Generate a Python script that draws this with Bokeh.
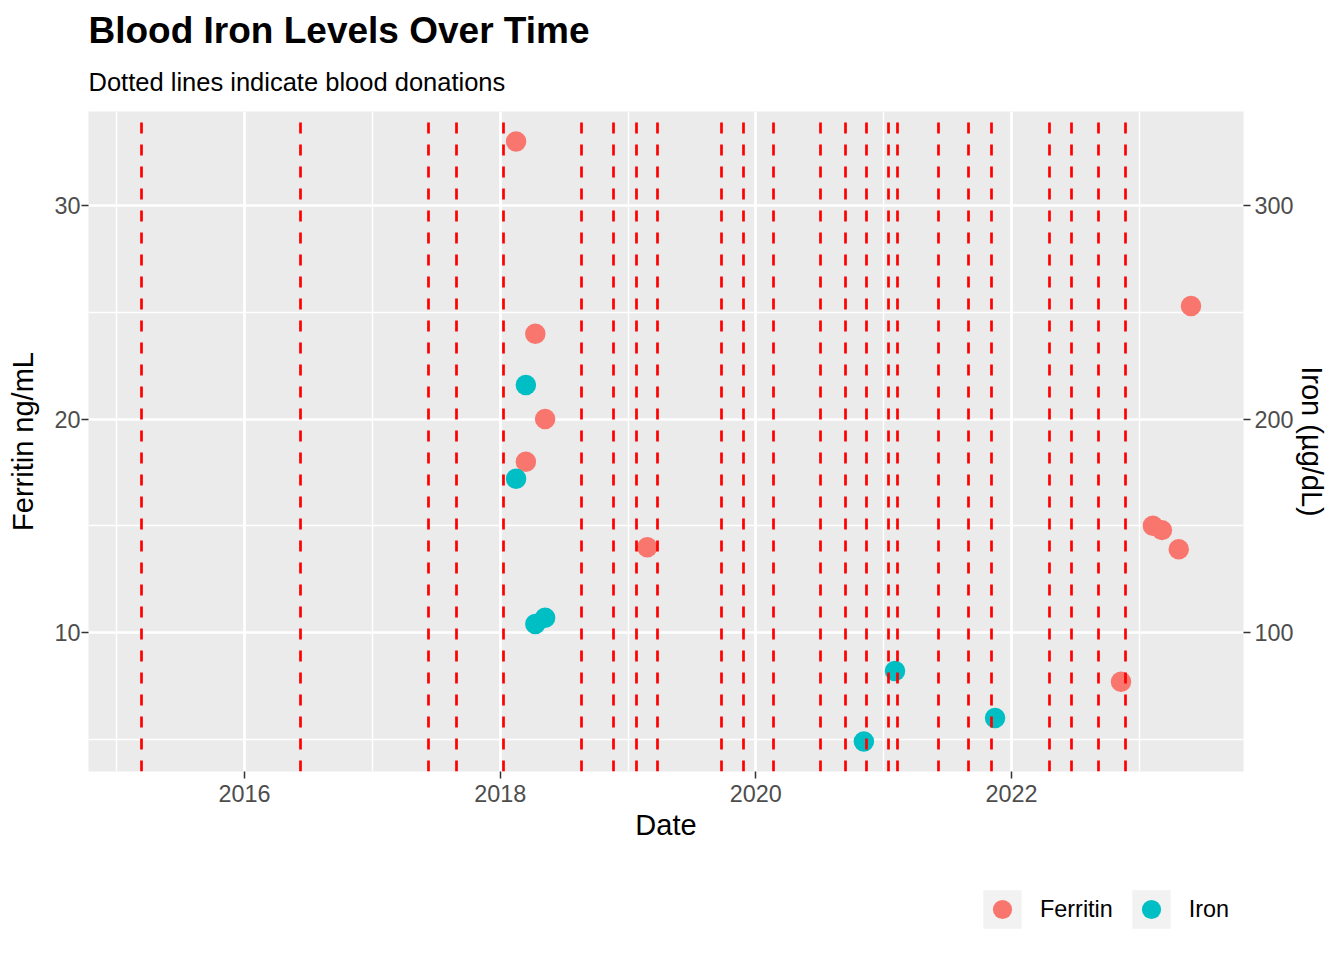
import pandas as pd
from bokeh.plotting import figure
from bokeh.layouts import column
from bokeh.models import (Range1d, LinearAxis, FixedTicker, DatetimeTickFormatter,
                          Legend, LegendItem, Title)
from bokeh.embed import file_html
from bokeh.resources import INLINE

# ---------------- data ----------------
donation_dates = ["2015-03-11", "2016-06-10", "2017-06-10", "2017-08-30", "2018-01-11",
                  "2018-08-21", "2018-11-21", "2019-01-24", "2019-03-27", "2019-09-26",
                  "2019-11-27", "2020-02-22", "2020-07-03", "2020-09-13", "2020-11-12",
                  "2021-01-13", "2021-02-08", "2021-06-06", "2021-08-31", "2021-11-06",
                  "2022-04-21", "2022-06-21", "2022-09-07", "2022-11-22"]

ferritin_dates = ["2018-02-15", "2018-03-15", "2018-04-11", "2018-05-09", "2019-02-25",
                  "2022-11-10", "2023-02-09", "2023-03-07", "2023-04-24", "2023-05-29"]
ferritin_values = [33.0, 18.0, 24.0, 20.0, 14.0, 7.7, 15.0, 14.8, 13.9, 25.3]

iron_dates = ["2018-02-15", "2018-03-15", "2018-04-11", "2018-05-09", "2020-11-05",
              "2021-02-02", "2021-11-15"]
iron_values = [172, 216, 104, 107, 49, 82, 60]

x_major_years = [2016, 2018, 2020, 2022]
x_minor_years = [2015, 2017, 2019, 2021, 2023]
ferritin_ticks = [10, 20, 30]
ferritin_minor = [5, 15, 25]
iron_ticks = [100, 200, 300]
iron_scale = 10.0  # iron axis = ferritin axis * 10

series_names = ["Ferritin", "Iron"]

FONT = "Liberation Sans"
FER_COL = "#F8766D"
IRON_COL = "#00BFC4"

def to_ms(s):
    return pd.Timestamp(s).value / 1e6

don_ms = [to_ms(d) for d in donation_dates]
fer_ms = [to_ms(d) for d in ferritin_dates]
iron_ms = [to_ms(d) for d in iron_dates]

# ranges with 5% expansion like ggplot
all_x = don_ms + fer_ms + iron_ms
xmin, xmax = min(all_x), max(all_x)
xpad = 0.05 * (xmax - xmin)
all_y = ferritin_values + [v / iron_scale for v in iron_values]
ymin, ymax = min(all_y), max(all_y)
ypad = 0.05 * (ymax - ymin)

p = figure(width=1336, height=860, x_axis_type="datetime",
           output_backend="svg", toolbar_location=None,
           x_range=Range1d(xmin - xpad, xmax + xpad),
           y_range=Range1d(ymin - ypad, ymax + ypad),
           min_border_left=88, min_border_right=93,
           min_border_top=111, min_border_bottom=89)
p.extra_y_ranges = {"iron": Range1d((ymin - ypad) * iron_scale, (ymax + ypad) * iron_scale)}

p.background_fill_color = "#EBEBEB"
p.border_fill_color = "white"
p.outline_line_color = None

# titles
p.title.text = "Blood Iron Levels Over Time"
p.title.text_font = FONT
p.title.text_font_size = "37px"
p.title.text_font_style = "bold"
p.title.text_color = "black"
p.title.align = "left"
p.title.standoff = 0
p.add_layout(Title(text="Dotted lines indicate blood donations", text_font=FONT,
                   text_font_size="25.5px", text_font_style="normal",
                   text_color="black", align="left", standoff=31), "above")

# axes
major_ms = [to_ms(f"{y}-01-01") for y in x_major_years]
minor_ms = [to_ms(f"{y}-01-01") for y in x_minor_years]
xaxis = p.xaxis[0]
xaxis.ticker = FixedTicker(ticks=major_ms, minor_ticks=minor_ms)
xaxis.formatter = DatetimeTickFormatter(years="%Y", months="%Y", days="%Y",
                                        hours="%Y", minutes="%Y", seconds="%Y",
                                        milliseconds="%Y", microseconds="%Y")
xaxis.axis_label = "Date"

yaxis = p.yaxis[0]
yaxis.ticker = FixedTicker(ticks=ferritin_ticks, minor_ticks=ferritin_minor)
yaxis.axis_label = "Ferritin ng/mL"

raxis = LinearAxis(y_range_name="iron", axis_label="Iron (µg/dL)",
                   ticker=FixedTicker(ticks=iron_ticks))
p.add_layout(raxis, "right")

for ax in (xaxis, yaxis, raxis):
    ax.axis_line_color = None
    ax.major_tick_line_color = "#333333"
    ax.major_tick_line_width = 1.5
    ax.major_tick_out = 7
    ax.major_tick_in = 0
    ax.minor_tick_line_color = None
    ax.major_label_text_font = FONT
    ax.major_label_text_font_size = "23.4px"
    ax.major_label_text_color = "#4D4D4D"
    ax.axis_label_text_font = FONT
    ax.axis_label_text_font_size = "29px"
    ax.axis_label_text_font_style = "normal"
    ax.axis_label_text_color = "black"
xaxis.major_label_standoff = 6
xaxis.axis_label_standoff = 4
yaxis.major_label_standoff = 1
yaxis.axis_label_standoff = 12
raxis.major_label_standoff = 4
raxis.axis_label_standoff = -1

# grids
for g in (p.xgrid[0], p.ygrid[0]):
    g.grid_line_color = "white"
    g.grid_line_width = 2.7
    g.minor_grid_line_color = "white"
    g.minor_grid_line_width = 1.4

# points
p.scatter(fer_ms, ferritin_values, size=20.5, fill_color=FER_COL, line_color=None)
p.scatter(iron_ms, iron_values, size=20.5, fill_color=IRON_COL, line_color=None,
          y_range_name="iron")

# donation lines (drawn on top of points)
p.vspan(x=don_ms, line_color="red", line_width=2.7, line_dash="11 11",
        line_dash_offset=11)

# ---------------- legend strip below the plot ----------------
lg = figure(width=1336, height=100, output_backend="svg", toolbar_location=None,
            x_range=Range1d(0, 1), y_range=Range1d(0, 1),
            x_axis_location=None, y_axis_location=None,
            min_border_left=0, min_border_right=0, min_border_top=0,
            min_border_bottom=0)
lg.outline_line_color = None
lg.grid.visible = False
lg.background_fill_color = "white"
lg.border_fill_color = "white"

nan = float("nan")
key_bg = lg.quad(left=[nan], right=[nan], top=[nan], bottom=[nan],
                 fill_color="#F2F2F2", line_color=None)
key_fer = lg.scatter([nan], [nan], fill_color=FER_COL, line_color=None)
key_iron = lg.scatter([nan], [nan], fill_color=IRON_COL, line_color=None)

legend = Legend(items=[LegendItem(label=series_names[0], renderers=[key_bg, key_fer]),
                       LegendItem(label=series_names[1], renderers=[key_bg, key_iron])],
                orientation="horizontal", location=(890, 27),
                glyph_width=48, glyph_height=48, label_standoff=14, spacing=14,
                padding=0, margin=0, border_line_color=None,
                background_fill_alpha=0, label_text_font=FONT,
                label_text_font_size="23.4px", label_text_color="black")
lg.add_layout(legend, "center")

layout = column(p, lg, spacing=0)
open("out.html", "w").write(file_html(layout, INLINE))
